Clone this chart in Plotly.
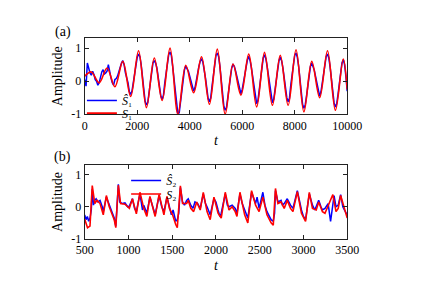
import plotly.graph_objects as go

# ---------------- data ----------------
# Panel (a): S1 (red) extrema, S1-hat (blue) samples every 50
s1_t = [0, 250, 550, 850, 1150, 1450, 1750, 2050, 2350, 2650, 2950, 3250, 3550,
        3850, 4150, 4450, 4750, 5050, 5350, 5650, 5950, 6250, 6550, 6850, 7150,
        7450, 7750, 8050, 8350, 8650, 8950, 9250, 9550, 9850, 10000]
s1_v = [0.15, 0.28, -0.05, 0.4, -0.17, 0.6, -0.46, 0.92, -0.8, 0.7, -0.58, 1.0, -1.0,
        0.48, -0.35, 0.74, -0.7, 0.97, -1.0, 0.52, -0.42, 0.82, -0.78, 0.87, -0.73,
        0.78, -0.73, 0.95, -0.93, 0.6, -0.5, 0.92, -0.88, 0.67, -0.25]

s1h_t = list(range(0, 10001, 50))
s1h_v = [0.05, -0.15, 0.55, 0.35, 0.25, 0.18, 0.3, 0.2, 0.05, 0.0,
         -0.12, -0.05, 0.15, 0.28, 0.35, 0.22, 0.25, 0.3, 0.5, 0.25,
         0.1, -0.05, -0.12, 0.05, 0.08, 0.15, 0.3, 0.48, 0.55, 0.62,
         0.5, 0.25, 0.12, -0.05, -0.32, -0.4, -0.3, -0.05, 0.3, 0.55,
         0.72, 0.82, 0.75, 0.5, 0.12, -0.3, -0.6, -0.72, -0.65, -0.35,
         0.02, 0.35, 0.55, 0.62, 0.55, 0.4, 0.12, -0.12, -0.45, -0.55,
         -0.42, -0.05, 0.25, 0.55, 0.8, 0.88, 0.78, 0.45, 0.08, -0.4,
         -0.8, -1.0, -0.95, -0.6, -0.18, 0.1, 0.35, 0.45, 0.38, 0.3,
         0.15, -0.02, -0.22, -0.3, -0.2, 0.05, 0.28, 0.45, 0.6, 0.68,
         0.58, 0.38, 0.1, -0.2, -0.52, -0.62, -0.5, -0.15, 0.2, 0.5,
         0.78, 0.85, 0.75, 0.45, 0.05, -0.32, -0.75, -0.88, -0.8, -0.5,
         -0.15, 0.15, 0.4, 0.5, 0.45, 0.3, 0.12, -0.05, -0.28, -0.38,
         -0.25, 0.0, 0.28, 0.5, 0.65, 0.75, 0.62, 0.4, 0.1, -0.2,
         -0.55, -0.68, -0.58, -0.25, 0.12, 0.45, 0.7, 0.8, 0.68, 0.45,
         0.15, -0.15, -0.5, -0.65, -0.55, -0.25, 0.1, 0.4, 0.62, 0.72,
         0.62, 0.4, 0.1, -0.2, -0.5, -0.62, -0.52, -0.12, 0.2, 0.5,
         0.78, 0.85, 0.72, 0.45, 0.1, -0.3, -0.7, -0.82, -0.72, -0.45,
         -0.1, 0.2, 0.45, 0.55, 0.45, 0.32, 0.12, -0.1, -0.35, -0.45,
         -0.32, -0.02, 0.28, 0.55, 0.75, 0.82, 0.7, 0.42, 0.1, -0.25,
         -0.65, -0.78, -0.68, -0.4, -0.05, 0.25, 0.55, 0.65, 0.5, 0.15,
         -0.3]

# Panel (b): S2 (red) and S2-hat (blue)
s2_t = [500, 532, 560, 586, 615, 640, 675, 712, 747, 780, 837, 855, 884, 910, 960,
        1010, 1045, 1090, 1131, 1175, 1210, 1245, 1305, 1350, 1405, 1440, 1468, 1504,
        1540, 1558, 1593, 1618, 1665, 1683, 1712, 1745, 1780, 1800, 1820, 1855, 1898,
        1934, 1977, 2024, 2060, 2106, 2149, 2185, 2220, 2240, 2274, 2328, 2364, 2407,
        2453, 2493, 2536, 2583, 2630, 2655, 2680, 2708, 2744, 2780, 2815, 2852, 2880,
        2930, 2977, 3024, 3067, 3103, 3146, 3174, 3217, 3246, 3282, 3336, 3372, 3397,
        3425, 3468, 3500]
s2_v = [-0.39, -0.65, -0.6, 0.66, 0.1, 0.2, 0.1, -0.25, 0.35, 0.0, -0.4, -0.65, 0.67, 0.1, 0.08,
        -0.05, 0.25, -0.22, 0.45, -0.05, -0.3, 0.32, -0.3, 0.38, -0.25, 0.32, -0.05, -0.25,
        -0.55, -0.65, 0.65, 0.1, 0.1, 0.2, -0.05, -0.15, 0.15, 0.0, -0.1, 0.45, -0.15,
        -0.4, 0.3, -0.2, -0.35, 0.45, -0.1, 0.0, -0.15, -0.3, 0.45, -0.25, -0.5, 0.5,
        0.05, -0.15, 0.3, -0.25, -0.5, -0.57, 0.57, 0.1, 0.15, -0.05, 0.2, -0.05, -0.15,
        0.47, -0.2, -0.45, 0.45, -0.05, -0.1, 0.15, -0.15, -0.2, 0.05, 0.38, -0.15, -0.05,
        0.35, -0.1, -0.35]

s2h_t = [500, 515, 530, 545, 560, 575, 586, 600, 615, 630, 650, 675, 700, 712, 747, 780,
         810, 837, 855, 884, 900, 930, 960, 990, 1010, 1045, 1070, 1090, 1131, 1160, 1175,
         1210, 1245, 1280, 1305, 1350, 1380, 1405, 1440, 1468, 1490, 1510, 1540, 1558,
         1575, 1593, 1618, 1640, 1665, 1683, 1712, 1737, 1760, 1790, 1820, 1855, 1880,
         1898, 1934, 1977, 2000, 2024, 2045, 2060, 2106, 2130, 2149, 2185, 2220, 2240,
         2274, 2300, 2328, 2364, 2407, 2453, 2470, 2493, 2536, 2560, 2583, 2610, 2630,
         2655, 2670, 2680, 2708, 2744, 2760, 2780, 2815, 2852, 2880, 2930, 2960, 2977,
         3000, 3024, 3067, 3103, 3130, 3146, 3174, 3200, 3217, 3246, 3282, 3310, 3336,
         3350, 3372, 3397, 3425, 3450, 3468, 3500]
s2h_v = [-0.25, -0.4, -0.3, -0.45, -0.35, -0.1, 0.55, 0.05, 0.2, 0.25, 0.15, 0.2, 0.0, -0.15, 0.3, 0.05,
         -0.15, -0.35, -0.6, 0.7, 0.15, 0.1, 0.12, 0.0, 0.02, 0.25, -0.05, -0.15, 0.4, -0.1, 0.05,
         -0.2, 0.3, -0.05, -0.25, 0.35, 0.0, -0.15, 0.3, 0.0, -0.25, -0.1, -0.45, -0.4,
         -0.2, 0.6, 0.15, 0.05, 0.2, 0.25, 0.05, -0.05, 0.15, 0.1, -0.05, 0.4, 0.1,
         0.0, -0.25, 0.25, 0.15, -0.1, -0.3, -0.2, 0.4, 0.05, 0.0, 0.05, -0.05, -0.2,
         0.4, 0.1, -0.1, -0.35, 0.45, 0.1, 0.3, -0.05, 0.45, 0.05, -0.15, -0.3, -0.4,
         -0.45, -0.2, 0.5, 0.15, 0.2, 0.05, 0.1, 0.25, 0.05, -0.05, 0.5, 0.1, -0.1,
         -0.3, -0.4, 0.4, 0.05, -0.1, 0.0, 0.2, 0.0, -0.1, -0.05, 0.1, -0.45, 0.2,
         0.35, 0.0, 0.05, 0.38, 0.0, -0.1, -0.25]

xticks_a = [0, 2000, 4000, 6000, 8000, 10000]
xticks_b = [500, 1000, 1500, 2000, 2500, 3000, 3500]
yticks = [-1, 0, 1]

# ---------------- figure ----------------
FONT = "Liberation Serif, Times New Roman, Times, serif"
BLUE = "#0000FF"
RED = "#FF0000"

# the page body has an 8px margin; figure is sized to fit the 421x292 window
OFF = 8
W, H = 421 - 2 * OFF, 292 - 2 * OFF


def px(x):
    return (x - OFF) / W


def py(y):
    return 1 - (y - OFF) / H


fig = go.Figure()
fig.add_trace(go.Scatter(x=s1h_t, y=s1h_v, mode="lines", name="<i>Ŝ</i>₁",
                         line=dict(color=BLUE, width=1.5), xaxis="x", yaxis="y", legend="legend"))
fig.add_trace(go.Scatter(x=s1_t, y=s1_v, mode="lines", name="<i>S</i>₁",
                         line=dict(color=RED, width=1.6, shape="spline", smoothing=1.0),
                         xaxis="x", yaxis="y", legend="legend2"))
fig.add_trace(go.Scatter(x=s2h_t, y=s2h_v, mode="lines", name="<i>Ŝ</i>₂",
                         line=dict(color=BLUE, width=1.5), xaxis="x2", yaxis="y2", legend="legend3"))
fig.add_trace(go.Scatter(x=s2_t, y=s2_v, mode="lines", name="<i>S</i>₂",
                         line=dict(color=RED, width=1.6),
                         xaxis="x2", yaxis="y2", legend="legend4"))

xdom = [px(80), px(359)]
ydom_a = [py(117), py(39)]
ydom_b = [py(245), py(169)]

axis_common = dict(showline=True, mirror="ticks", linecolor="#222", linewidth=1,
                   ticks="inside", ticklen=4, tickcolor="#222", showgrid=False,
                   zeroline=False, tickfont=dict(family=FONT, size=12, color="#000"))
xt = dict(text="<i>t</i>", standoff=3, font=dict(family=FONT, size=14))
yt = dict(text="Amplitude", standoff=5, font=dict(family=FONT, size=14))


def leg(x, y):
    return dict(x=px(x), y=py(y), xanchor="left", yanchor="top",
                bgcolor="rgba(0,0,0,0)", font=dict(family=FONT, size=12),
                tracegroupgap=0, itemwidth=30)


fig.update_layout(
    width=W, height=H, margin=dict(l=0, r=0, t=0, b=0),
    paper_bgcolor="white", plot_bgcolor="white",
    font=dict(family=FONT, size=12, color="#000"),
    xaxis=dict(domain=xdom, anchor="y", range=[0, 10000], tickvals=xticks_a,
               ticktext=[str(v) for v in xticks_a], title=xt, **axis_common),
    yaxis=dict(domain=ydom_a, anchor="x", range=[-1, 1.3], tickvals=yticks,
               ticktext=[str(v) for v in yticks], title=yt, **axis_common),
    xaxis2=dict(domain=xdom, anchor="y2", range=[500, 3500], tickvals=xticks_b,
                ticktext=[str(v) for v in xticks_b], title=xt, **axis_common),
    yaxis2=dict(domain=ydom_b, anchor="x2", range=[-1, 1.3], tickvals=yticks,
                ticktext=[str(v) for v in yticks], title=yt, **axis_common),
    legend=leg(77, 88),
    legend2=leg(77, 101),
    legend3=leg(124, 170),
    legend4=leg(124, 184),
    annotations=[
        dict(text="(a)", x=px(46), y=py(33), xref="paper", yref="paper",
             showarrow=False, xanchor="left", yanchor="middle", font=dict(family=FONT, size=14)),
        dict(text="(b)", x=px(45), y=py(161), xref="paper", yref="paper",
             showarrow=False, xanchor="left", yanchor="middle", font=dict(family=FONT, size=14)),
    ],
    showlegend=True,
)

fig.write_html("out.html")
